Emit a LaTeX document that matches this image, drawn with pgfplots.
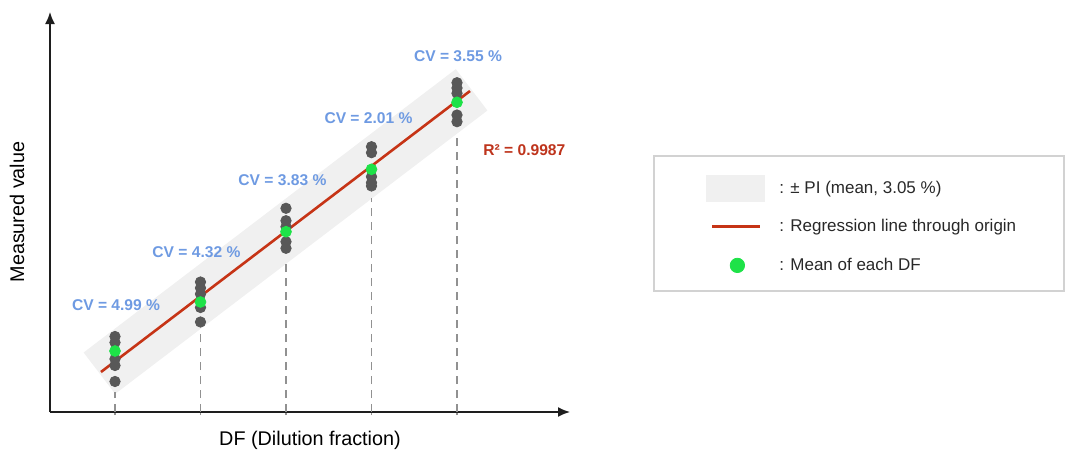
\documentclass[border=0pt]{standalone}
\usepackage{fontspec}
\setmainfont{Liberation Sans}
\usepackage{pgfplots}
\pgfplotsset{compat=1.18}
\usetikzlibrary{arrows.meta}
\definecolor{bandgray}{RGB}{240,240,240}
\definecolor{dotgray}{RGB}{88,88,88}
\definecolor{meangreen}{RGB}{30,226,72}
\definecolor{regred}{RGB}{198,52,22}
\definecolor{cvblue}{RGB}{110,154,226}
\definecolor{r2red}{RGB}{190,52,28}
\definecolor{dashgray}{RGB}{145,145,145}
\definecolor{axisblack}{RGB}{30,30,30}
\definecolor{boxgray}{RGB}{210,210,210}
\definecolor{textdark}{RGB}{40,40,40}
\begin{document}
\begin{tikzpicture}
\begin{axis}[
  scale only axis, width=260pt, height=200pt,
  xmin=0.2398, xmax=6.3216, ymin=0, ymax=40,
  axis x line=bottom, axis y line=left,
  axis line style={draw=axisblack, line width=0.8pt, -{Latex[length=6pt,width=5pt]}},
  xtick={1,2,3,4,5}, xticklabels={}, ytick=\empty,
  major tick length=3pt, tick align=center,
  xtick style={dashgray, line width=0.8pt},
  xlabel={DF (Dilution fraction)}, ylabel={Measured value},
  xlabel style={at={(axis description cs:0.5,-0.07)}, anchor=center, font=\fontsize{9.9}{12}\selectfont, text=black},
  ylabel style={at={(axis description cs:-0.0635,0.5)}, anchor=center, font=\fontsize{9.9}{12}\selectfont, text=black},
  clip=false,
  legend style={draw=none, fill=none, at={(axis description cs:1.2615,0.595)}, anchor=north west,
    inner sep=0pt, row sep=5.25pt, column sep=7pt,
    font=\fontsize{8.5}{10}\selectfont, text=textdark,
    nodes={inner sep=0pt, anchor=west}},
  legend cell align=left,
]
% prediction interval band
\addplot[fill=bandgray, draw=none,
  legend image code/.code={\path[draw=none,fill=none] (0pt,-7pt) rectangle (29.5pt,7pt);
    \fill[bandgray] (0pt,-6.75pt) rectangle (29.5pt,6.75pt);}]
  coordinates {(0.633,5.95) (1.002,1.81) (5.356,30.15) (4.986,34.29)};
\addlegendentry{: ± PI (mean, 3.05 \%)}
% dashed drop lines
\addplot[ycomb, dashgray, line width=0.85pt, dash pattern=on 4pt off 3pt, forget plot]
  coordinates {(1,2.0) (2,8.0) (3,15.2) (4,21.4) (5,27.9)};
% replicate measurements
\addplot[only marks, mark=*, mark size=2.6pt, dotgray, forget plot]
  coordinates {
  (1,7.55) (1,6.95) (1,5.3) (1,4.65) (1,3.05)
  (2,13.0) (2,12.4) (2,11.8) (2,10.45) (2,9.0)
  (3,20.37) (3,19.13) (3,18.53) (3,17.03) (3,16.37)
  (4,26.53) (4,25.93) (4,23.53) (4,22.93) (4,22.6)
  (5,32.93) (5,32.4) (5,31.87) (5,29.7) (5,29.03)};
% regression line
\addplot[regred, line width=1.3pt,
  legend image code/.code={\path[draw=none,fill=none] (0pt,-7pt) rectangle (29.5pt,7pt);
    \draw[regred, line width=1.5pt] (3pt,0pt) -- (27pt,0pt);}]
  coordinates {(0.836,4.0) (5.152,32.1)};
\addlegendentry{: Regression line through origin}
% means
\addplot[only marks, mark=*, mark size=2.7pt, meangreen,
  legend image code/.code={\path[draw=none,fill=none] (0pt,-7pt) rectangle (29.5pt,7pt);
    \fill[meangreen] (15.5pt,0pt) circle (3.6pt);}]
  coordinates {(1,6.1) (2,11.0) (3,18.03) (4,24.27) (5,30.97)};
\addlegendentry{: Mean of each DF}
% annotations
\begin{scope}[every node/.style={font=\fontsize{7.8}{9}\selectfont\bfseries, text=cvblue}]
\node at (axis cs:1.012,10.7) {CV = 4.99 \%};
\node at (axis cs:1.953,16.03) {CV = 4.32 \%};
\node at (axis cs:2.959,23.2) {CV = 3.83 \%};
\node at (axis cs:3.965,29.37) {CV = 2.01 \%};
\node at (axis cs:5.012,35.6) {CV = 3.55 \%};
\end{scope}
\node[anchor=west, inner sep=0pt, font=\fontsize{7.8}{9}\selectfont\bfseries, text=r2red] at (axis cs:5.304,26.2) {R² = 0.9987};
\end{axis}
\draw[boxgray, line width=0.6pt] (302pt,60.5pt) rectangle (507pt,128pt);
\pgfresetboundingbox
\useasboundingbox (-25pt,-20pt) rectangle (508.5pt,206pt);
\end{tikzpicture}
\end{document}
